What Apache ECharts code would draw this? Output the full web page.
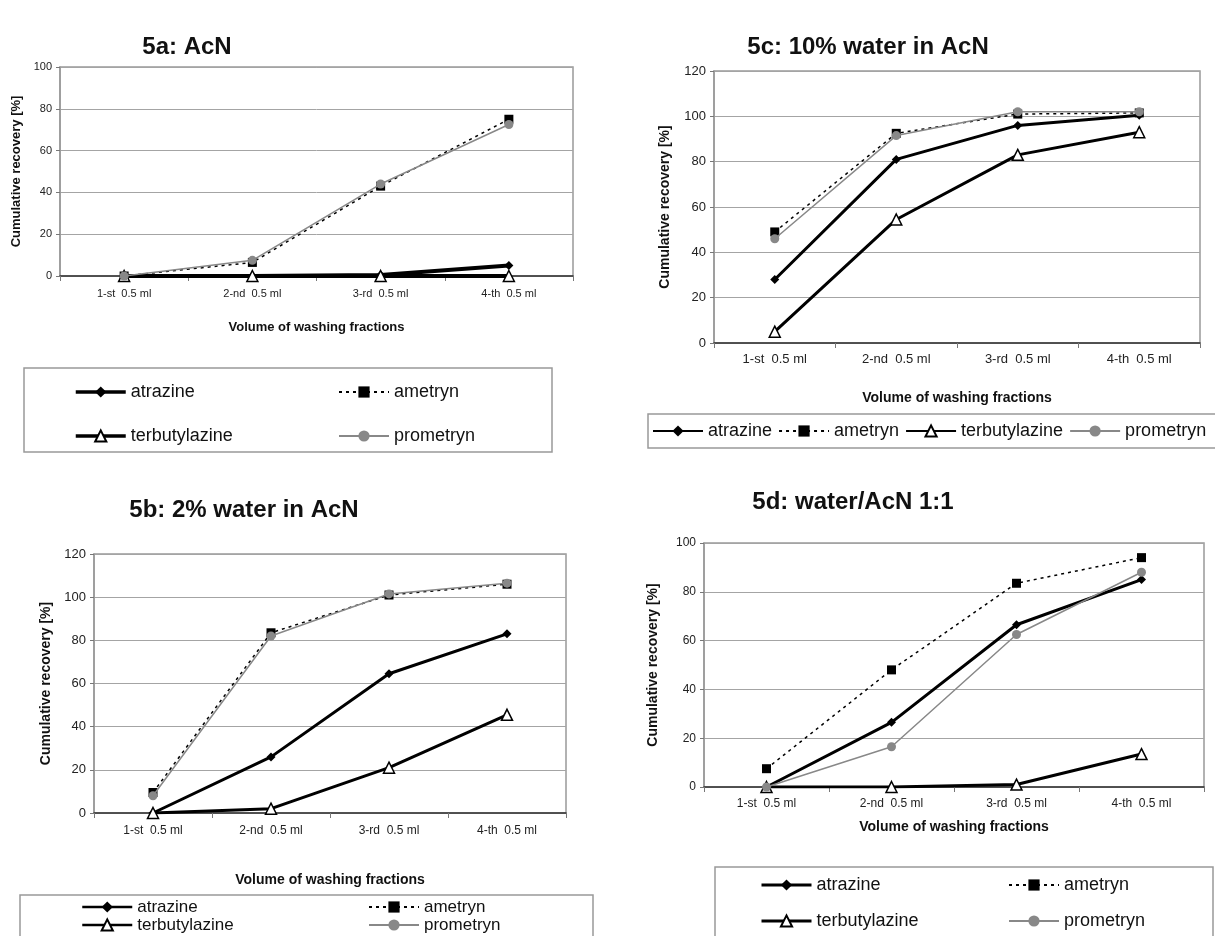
<!DOCTYPE html>
<html>
<head>
<meta charset="utf-8">
<script src="https://cdn.jsdelivr.net/npm/echarts@6/dist/echarts.min.js"></script>
<style>
html,body{margin:0;padding:0;background:#fff;}
#chart{width:1215px;height:936px;}
</style>
</head>
<body>
<div id="chart"></div>
<script>
// ---------- DATA ----------
const categories = ['1-st  0.5 ml', '2-nd  0.5 ml', '3-rd  0.5 ml', '4-th  0.5 ml'];
const seriesNames = ['atrazine', 'ametryn', 'terbutylazine', 'prometryn'];
const panelTitles = ['5a: AcN', '5c: 10% water in AcN', '5b: 2% water in AcN', '5d: water/AcN 1:1'];
const xAxisTitle = 'Volume of washing fractions';
const yAxisTitle = 'Cumulative recovery [%]';
const yMax = [100, 120, 120, 100];
const yStep = 20;

// 5a: AcN
const a_atrazine      = [0, 0, 0.5, 5];
const a_ametryn       = [0, 6.5, 43, 75];
const a_terbutylazine = [0, 0, 0, 0];
const a_prometryn     = [0, 7.5, 44, 72.5];
// 5c: 10% water in AcN
const c_atrazine      = [28, 81, 96, 100.5];
const c_ametryn       = [49, 92.5, 101, 101.5];
const c_terbutylazine = [5, 54.5, 83, 93];
const c_prometryn     = [46, 91.5, 102, 102];
// 5b: 2% water in AcN
const b_atrazine      = [0, 26, 64.5, 83];
const b_ametryn       = [9.5, 83.5, 101, 106];
const b_terbutylazine = [0, 2, 21, 45.5];
const b_prometryn     = [8, 82, 101.5, 106.5];
// 5d: water/AcN 1:1
const d_atrazine      = [0, 26.5, 66.5, 85];
const d_ametryn       = [7.5, 48, 83.5, 94];
const d_terbutylazine = [0, 0, 1, 13.5];
const d_prometryn     = [0, 16.5, 62.5, 88];

const panelData = [
  [a_atrazine, a_ametryn, a_terbutylazine, a_prometryn],
  [c_atrazine, c_ametryn, c_terbutylazine, c_prometryn],
  [b_atrazine, b_ametryn, b_terbutylazine, b_prometryn],
  [d_atrazine, d_ametryn, d_terbutylazine, d_prometryn]
];

// ---------- LAYOUT ----------
const FONT = '"Liberation Sans", Arial, sans-serif';
const layout = [
  {grid:{left:60, top:67, width:513, height:209}, tickFont:11, yTickFont:11, labelMargin:12, xNameGap:45, yNameGap:37, nameFont:13, title:[187,47], thick:4},
  {grid:{left:714, top:71, width:486, height:272}, tickFont:13, yTickFont:13, labelMargin:10, xNameGap:48, yNameGap:42, nameFont:14, title:[868,47], thick:3},
  {grid:{left:94, top:554, width:472, height:259}, tickFont:12, yTickFont:13, labelMargin:12, xNameGap:60, yNameGap:41, nameFont:14, title:[244,510], thick:3},
  {grid:{left:704, top:543, width:500, height:244}, tickFont:12, yTickFont:12, labelMargin:11, xNameGap:33, yNameGap:44, nameFont:14, title:[853,502], thick:3}
];

const chart = echarts.init(document.getElementById('chart'), null, {renderer:'canvas'});

const grids = [], xAxes = [], yAxes = [], series = [];
layout.forEach((L, i) => {
  grids.push(Object.assign({show:true, borderColor:'#999', borderWidth:1.5, containLabel:false}, L.grid));
  xAxes.push({
    type:'category', gridIndex:i, data:categories, boundaryGap:true,
    name:xAxisTitle, nameLocation:'middle', nameGap:L.xNameGap,
    nameTextStyle:{fontFamily:FONT, fontWeight:'bold', fontSize:L.nameFont, color:'#111'},
    axisLine:{show:true, onZero:true, lineStyle:{color:'#333', width:1.5}},
    axisTick:{show:true, length:5, lineStyle:{color:'#777'}},
    axisLabel:{fontFamily:FONT, fontSize:L.tickFont, color:'#222', margin:L.labelMargin},
    splitLine:{show:false}
  });
  yAxes.push({
    type:'value', gridIndex:i, min:0, max:yMax[i], interval:yStep,
    name:yAxisTitle, nameLocation:'middle', nameGap:L.yNameGap,
    nameTextStyle:{fontFamily:FONT, fontWeight:'bold', fontSize:L.nameFont, color:'#111'},
    axisLine:{show:true, lineStyle:{color:'#999', width:1.5}},
    axisTick:{show:true, length:4, lineStyle:{color:'#777'}},
    axisLabel:{fontFamily:FONT, fontSize:L.yTickFont, color:'#222', margin:8},
    splitLine:{show:true, lineStyle:{color:'#a4a4a4', width:1}}
  });
  const d = panelData[i];
  series.push({name:'atrazine', type:'line', xAxisIndex:i, yAxisIndex:i, data:d[0],
    symbol:'diamond', symbolSize:9, color:'#000',
    lineStyle:{color:'#000', width:L.thick}, itemStyle:{color:'#000'}, z:3});
  series.push({name:'ametryn', type:'line', xAxisIndex:i, yAxisIndex:i, data:d[1],
    symbol:'rect', symbolSize:9, color:'#000',
    lineStyle:{color:'#000', width:1.5, type:[3,4]}, itemStyle:{color:'#000'}, z:4});
  series.push({name:'terbutylazine', type:'line', xAxisIndex:i, yAxisIndex:i, data:d[2],
    symbol:'triangle', symbolSize:11, color:'#000',
    lineStyle:{color:'#000', width:L.thick}, itemStyle:{color:'#fff', borderColor:'#000', borderWidth:1.5}, z:5});
  series.push({name:'prometryn', type:'line', xAxisIndex:i, yAxisIndex:i, data:d[3],
    symbol:'circle', symbolSize:9, color:'#888',
    lineStyle:{color:'#888', width:1.5}, itemStyle:{color:'#888'}, z:6});
});

const legText = (size, lh) => ({fontFamily:FONT, fontSize:size, color:'#111', lineHeight:lh});
const legBase = {itemWidth:50, itemHeight:14, padding:0, selectedMode:false};
const item = (name, thick) => {
  if (name === 'atrazine') return {name, lineStyle:{width:thick}};
  if (name === 'terbutylazine') return {name, lineStyle:{width:thick}};
  return {name};
};
const legends = [
  // 5a
  Object.assign({}, legBase, {left:74, top:382, orient:'vertical', itemGap:24, data:[item('atrazine',3.5), item('terbutylazine',3.5)], textStyle:legText(18,20)}),
  Object.assign({}, legBase, {left:338, top:382, orient:'vertical', itemGap:24, data:[item('ametryn'), item('prometryn')], textStyle:legText(18,20)}),
  // 5c
  Object.assign({}, legBase, {left:652, top:421, orient:'horizontal', itemGap:6, data:seriesNames.map(n => item(n, 2)), textStyle:legText(18,20)}),
  // 5b
  Object.assign({}, legBase, {left:81, top:898, orient:'vertical', itemGap:0, data:[item('atrazine',2.5), item('terbutylazine',2.5)], textStyle:legText(17,18)}),
  Object.assign({}, legBase, {left:368, top:898, orient:'vertical', itemGap:0, data:[item('ametryn'), item('prometryn')], textStyle:legText(17,18)}),
  // 5d
  Object.assign({}, legBase, {left:760, top:875, orient:'vertical', itemGap:16, data:[item('atrazine',3), item('terbutylazine',3)], textStyle:legText(18,20)}),
  Object.assign({}, legBase, {left:1008, top:875, orient:'vertical', itemGap:16, data:[item('ametryn'), item('prometryn')], textStyle:legText(18,20)})
];

const boxes = [
  {x:24, y:368, width:528, height:84},
  {x:648, y:414, width:580, height:34},
  {x:20, y:895, width:573, height:60},
  {x:715, y:867, width:498, height:80}
];
const graphics = [];
boxes.forEach(b => graphics.push({type:'rect', shape:b, style:{fill:'none', stroke:'#999', lineWidth:1.5}, z:-1, silent:true}));
layout.forEach((L, i) => graphics.push({type:'text', x:L.title[0], y:L.title[1],
  style:{text:panelTitles[i], textAlign:'center', textVerticalAlign:'middle', font:'bold 24px ' + FONT, fill:'#111'}}));

chart.setOption({
  animation:false,
  backgroundColor:'#fff',
  grid:grids, xAxis:xAxes, yAxis:yAxes, series:series,
  legend:legends,
  graphic:graphics
});
</script>
</body>
</html>
